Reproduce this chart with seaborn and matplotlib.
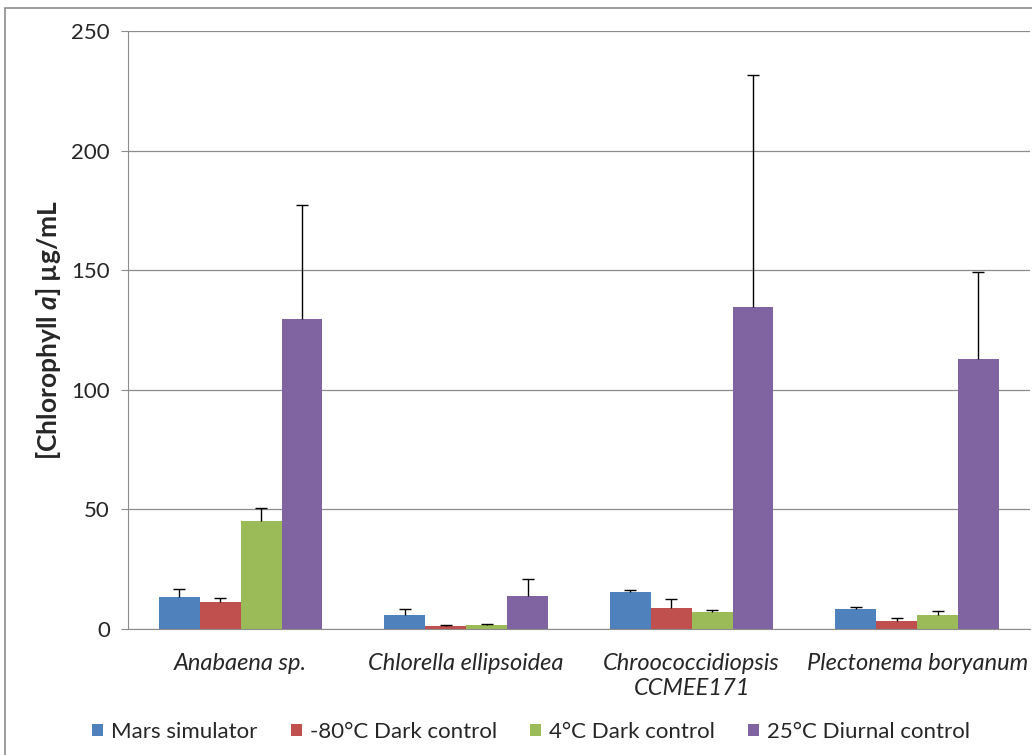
import numpy as np
import pandas as pd
import seaborn as sns
import matplotlib.pyplot as plt
from matplotlib.patches import Rectangle

# data
species = ['Anabaena sp.', 'Chlorella ellipsoidea', 'Chroococcidiopsis\nCCMEE171', 'Plectonema boryanum']
treatments = ['Mars simulator', '-80°C Dark control', '4°C Dark control', '25°C Diurnal control']
mars = [13.4, 5.9, 15.5, 8.5]
dark80 = [11.2, 1.1, 8.9, 3.5]
dark4 = [45.2, 1.7, 7.1, 5.9]
diurnal25 = [129.6, 13.9, 134.6, 112.9]
mars_err = [3.3, 2.5, 0.6, 0.7]
dark80_err = [1.8, 0.4, 3.6, 1.0]
dark4_err = [5.4, 0.3, 0.8, 1.5]
diurnal25_err = [47.7, 7.1, 97.0, 36.3]
colors = ['#4F81BD', '#C0504D', '#9BBB59', '#8064A2']

sns.set_style('white')
plt.rcParams['font.family'] = ['Lato', 'DejaVu Sans']
plt.rcParams['mathtext.fontset'] = 'custom'
plt.rcParams['mathtext.it'] = 'Lato:italic:bold'

vals = [mars, dark80, dark4, diurnal25]
errs = [mars_err, dark80_err, dark4_err, diurnal25_err]
df = pd.DataFrame({
    'species': np.tile(species, 4),
    'treatment': np.repeat(treatments, 4),
    'value': np.concatenate(vals),
})

fig = plt.figure(figsize=(10.32, 7.55), dpi=100)
ax = fig.add_axes([0.124, 0.167, 0.874, 0.792])

sns.barplot(data=df, x='species', y='value', hue='treatment', palette=colors,
            errorbar=None, width=0.725, saturation=1, linewidth=0, ax=ax)

# one-sided error bars (upper only)
for cont, e in zip(ax.containers, errs):
    xs = [b.get_x() + b.get_width() / 2 for b in cont]
    hs = [b.get_height() for b in cont]
    eb = ax.errorbar(xs, hs, yerr=[np.zeros(len(e)), e], fmt='none', ecolor='black',
                     elinewidth=1, capsize=4, capthick=1)
    eb[1][0].set_visible(False)

ax.set_ylim(0, 250)
ax.set_xlim(-0.5, 3.5)
ax.set_yticks(range(0, 251, 50))
ax.yaxis.grid(True, color='#8c8c8c', linewidth=0.9)
ax.set_axisbelow(True)
for s in ['top', 'right']:
    ax.spines[s].set_visible(False)
ax.spines['left'].set_color('#8c8c8c')
ax.spines['bottom'].set_color('#8c8c8c')

ax.set_xticks(np.arange(4))
ax.set_xticklabels(species, fontstyle='italic', fontsize=17, linespacing=1.27)
ax.tick_params(axis='x', length=0, pad=17)
ax.set_xticks(np.arange(-0.5, 4, 1), minor=True)
ax.tick_params(axis='x', which='minor', length=8, color='#8c8c8c', direction='out')
ax.tick_params(axis='y', labelsize=16, length=5, pad=8, color='#8c8c8c', left=True, direction='out')

ax.set_xlabel('')
ax.set_ylabel(r'[Chlorophyll $\mathit{a}$] µg/mL', fontsize=19, fontweight='bold', labelpad=6)

handles, labels = ax.get_legend_handles_labels()
ax.legend(handles, labels, loc='center', bbox_to_anchor=(0.447, -0.172), ncol=4,
          frameon=False, fontsize=16, handlelength=0.5, handleheight=0.5,
          handletextpad=0.35, columnspacing=1.5)

fig.patches.append(Rectangle((0.005, -0.1), 1.2, 1.1 - 8 / 755, transform=fig.transFigure,
                             fill=False, edgecolor='#8c8c8c', linewidth=1.2))

fig.savefig('out.png', dpi=100)
